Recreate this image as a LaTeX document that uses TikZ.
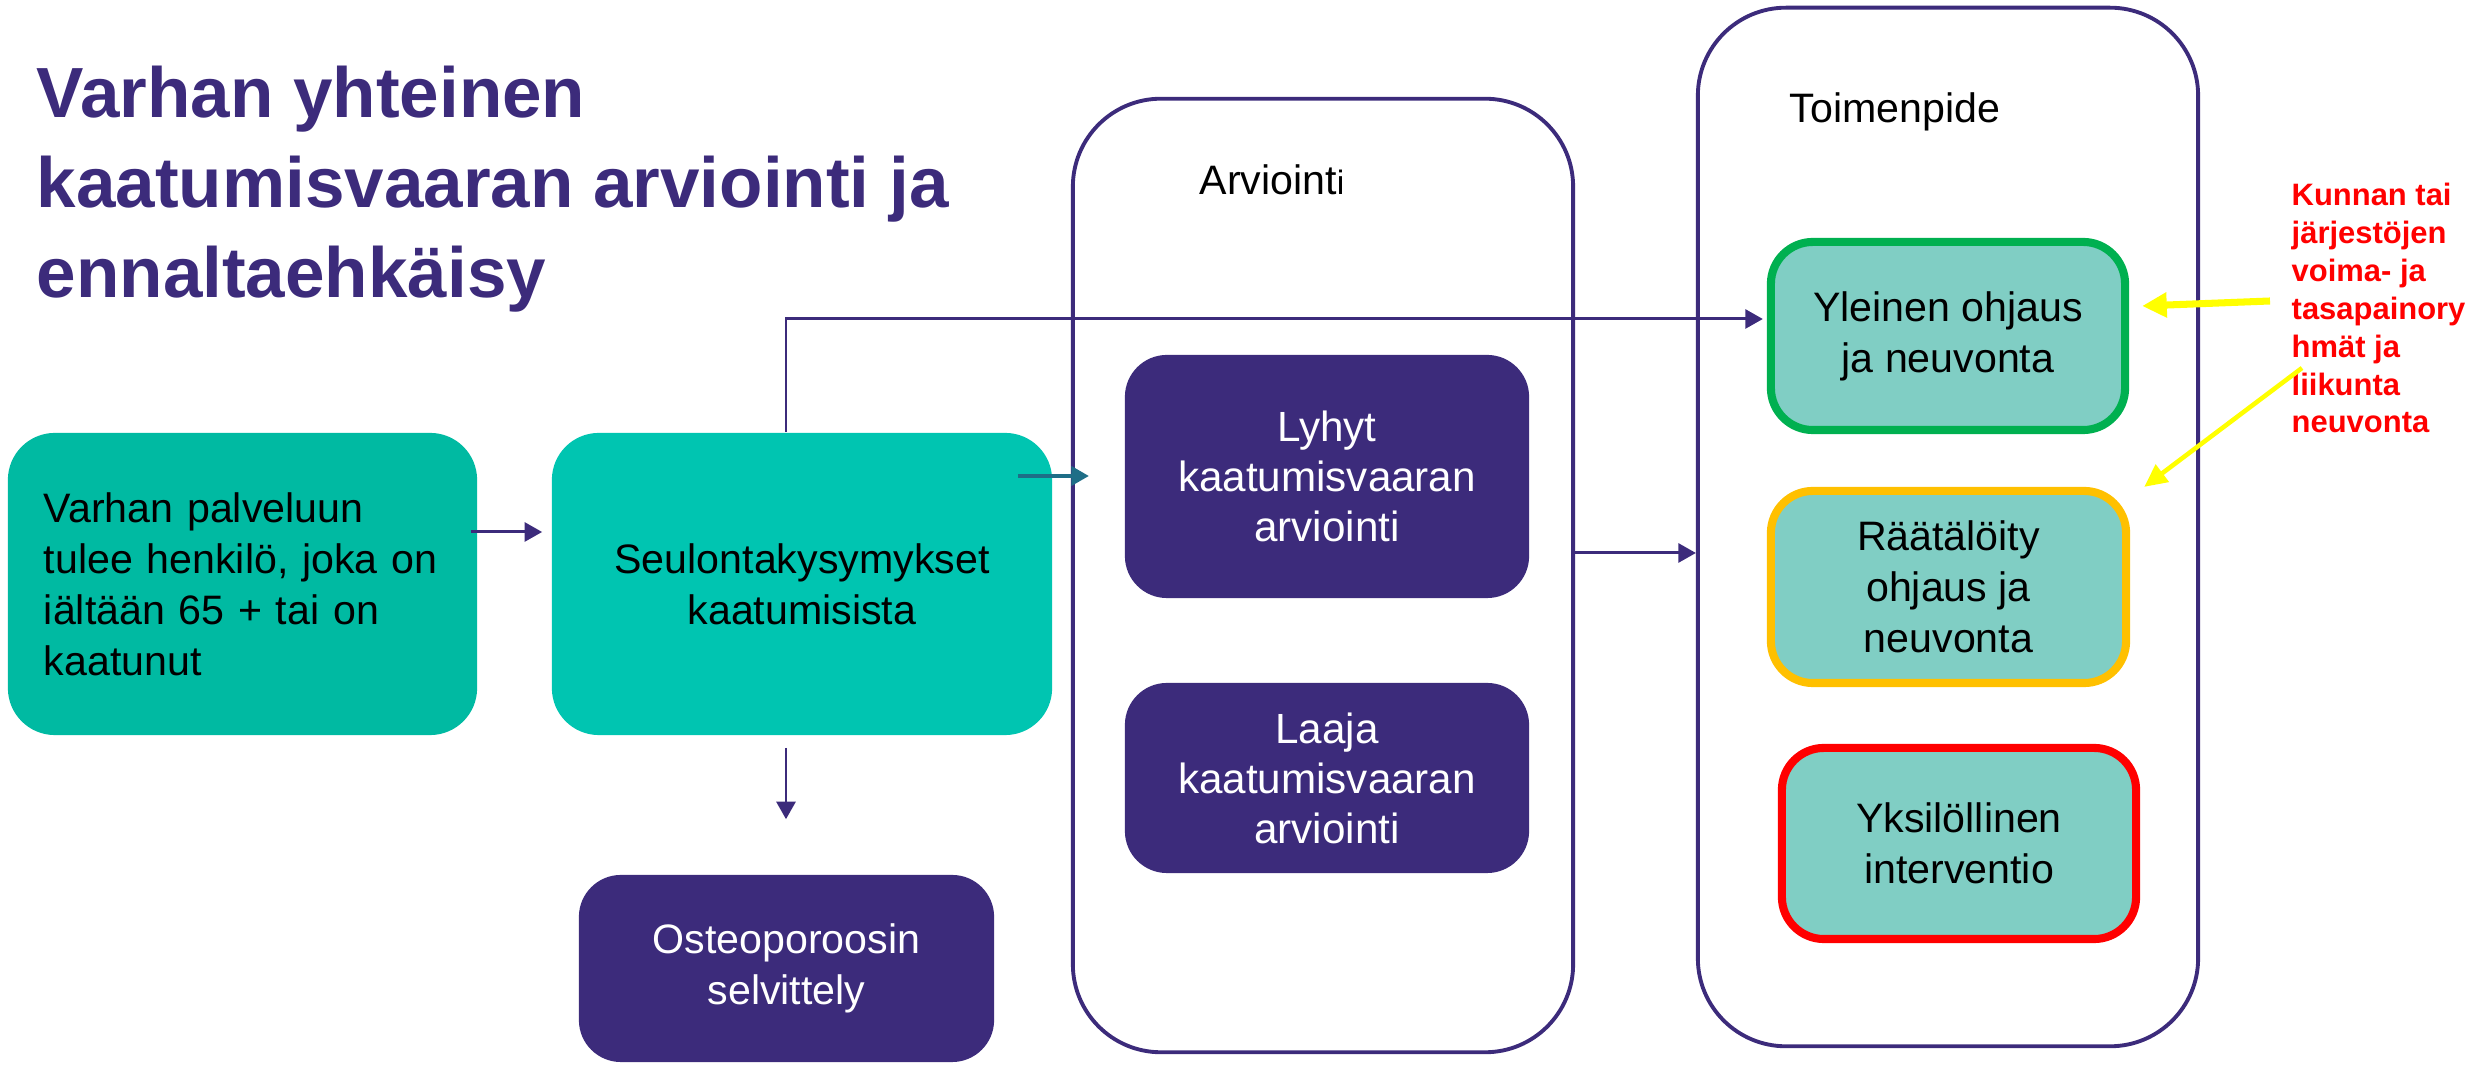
\documentclass[tikz,border=0pt]{standalone}
\usepackage{fontspec}
\setmainfont{Liberation Sans}
\usetikzlibrary{arrows.meta,calc}
\definecolor{vpurple}{RGB}{60,43,123}
\definecolor{tealA}{RGB}{0,186,162}
\definecolor{tealB}{RGB}{0,197,177}
\definecolor{tealL}{RGB}{128,206,196}
\definecolor{tealArr}{RGB}{30,110,135}
\definecolor{bgreen}{RGB}{0,176,80}
\definecolor{bamber}{RGB}{255,192,0}
\definecolor{bred}{RGB}{255,0,0}
\definecolor{byellow}{RGB}{255,255,0}
\newcommand{\vbodyfont}{\fontsize{11.7pt}{14.5pt}\selectfont}
\newcommand{\vwidefont}{\fontsize{12pt}{14.2pt}\selectfont}
\begin{document}
\begin{tikzpicture}[x=0.01cm,y=-0.01cm,
  box/.style={rounded corners=0.47cm, inner sep=0pt, align=center, font=\vbodyfont},
  tealbox/.style={box, fill=#1, text=black},
  purplebox/.style={box, fill=vpurple, text=white, rounded corners=0.42cm},
  actbox/.style={box, fill=tealL, draw=#1, line width=2.3pt, rounded corners=0.42cm, text=black},
  frame/.style={draw=vpurple, line width=1.1pt, rounded corners=0.88cm, inner sep=0pt},
  arr/.style={draw=vpurple, line width=0.85pt, -{Triangle[length=5pt,width=5.4pt]}},
  tarr/.style={draw=tealArr, line width=1.1pt, -{Triangle[length=5pt,width=5.4pt]}},
  yarrA/.style={draw=byellow, line width=2pt, -{Triangle[length=7pt,width=6.8pt]}},
  yarrB/.style={draw=byellow, line width=1.3pt, -{Triangle[length=6.5pt,width=6pt]}}
]
\useasboundingbox (0,0) rectangle (2474,1065);

% title
\node[anchor=north west, align=left, inner sep=0pt, text=vpurple,
      font=\fontsize{20.2pt}{25.6pt}\selectfont\bfseries] (title) at (36,65)
  {Varhan yhteinen\\kaatumisvaaran arviointi ja\\ennaltaehkäisy};

% frames
\node[frame, minimum width=5cm, minimum height=9.53cm] (arvframe) at (1323,575.5) {};
\node[frame, minimum width=5cm, minimum height=10.38cm] (toiframe) at (1948,527) {};
\node[anchor=base west, inner sep=0pt, font=\vbodyfont] (arvlabel) at (1199,195)
  {Arvioint{\fontsize{9.6pt}{12pt}\selectfont i}};
\node[anchor=base west, inner sep=0pt, font=\vbodyfont] (toilabel) at (1789,123) {Toimenpide};

% boxes
\node[tealbox=tealA, minimum width=4.69cm, minimum height=3.02cm, text width=3.97cm, align=left] (box1) at (242.5,584)
  {Varhan palveluun\\tulee henkilö, joka on\\iältään 65 + tai on\\kaatunut};
\node[tealbox=tealB, minimum width=5cm, minimum height=3.02cm] (box2) at (802,584)
  {Seulontakysymykset\\kaatumisista};
\node[purplebox, minimum width=4.15cm, minimum height=1.87cm] (osteo) at (786.5,968.5)
  {Osteoporoosin\\selvittely};
\node[purplebox, font=\vwidefont, minimum width=4.04cm, minimum height=2.43cm] (lyhyt) at (1327,476.5)
  {Lyhyt\\kaatumisvaaran\\arviointi};
\node[purplebox, font=\vwidefont, minimum width=4.04cm, minimum height=1.9cm] (laaja) at (1327,778)
  {Laaja\\kaatumisvaaran\\arviointi};
\node[actbox=bgreen, minimum width=3.54cm, minimum height=1.88cm] (yle) at (1948,336)
  {Yleinen ohjaus\\ja neuvonta};
\node[actbox=bamber, minimum width=3.55cm, minimum height=1.92cm] (rat) at (1948.5,587)
  {Räätälöity\\ohjaus ja\\neuvonta};
\node[actbox=bred, minimum width=3.54cm, minimum height=1.91cm] (yks) at (1959,843.5)
  {Yksilöllinen\\interventio};

% note
\node[anchor=north west, align=left, inner sep=0pt, text=bred,
      font=\fontsize{8.8pt}{10.8pt}\selectfont\bfseries] (note) at (2291,182)
  {Kunnan tai\\järjestöjen\\voima- ja\\tasapainory\\hmät ja\\liikunta\\neuvonta};

% connectors
\draw[arr] ($(box1.east)+(-7,-52)$) -- ($(box2.west)+(-9,-52)$);
\coordinate (s1) at ($(box2.north)+(-16,0)$);
\coordinate (t1) at ($(yle.west)+(-4,-17)$);
\draw[arr] (s1) |- (t1);
\coordinate (s2) at ($(box2.east)+(-35,-108)$);
\coordinate (t2) at ($(arvframe.west |- s2)+(18,0)$);
\draw[tarr] (s2) -- (t2);
\coordinate (s4) at ($(box2.south)+(-16,12)$);
\draw[arr] (s4) -- ($(s4 |- osteo.north)+(0,-55)$);
\coordinate (s3) at ($(arvframe.east)+(0,-22.5)$);
\draw[arr] (s3) -- (s3 -| toiframe.west);

% yellow arrows
\coordinate (y1s) at (2270,301);
\coordinate (y1t) at ($(yle.east)+(13,-30)$);
\draw[yarrA] (y1s) -- (y1t);
\coordinate (y2s) at (2302,368);
\coordinate (y2t) at ($(rat.north east)+(14,0)$);
\draw[yarrB] (y2s) -- (y2t);
\end{tikzpicture}
\end{document}
